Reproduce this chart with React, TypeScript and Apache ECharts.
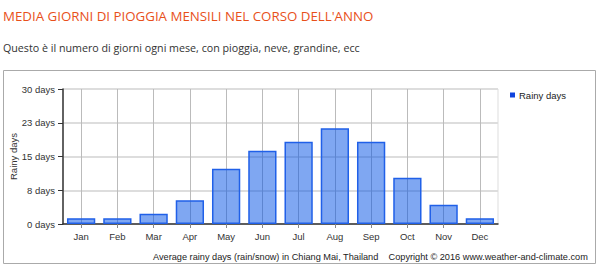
import React, { useEffect, useRef } from "react";
import * as echarts from "echarts";

const months = ["Jan", "Feb", "Mar", "Apr", "May", "Jun", "Jul", "Aug", "Sep", "Oct", "Nov", "Dec"];
const rainyDays = [1.3, 1.3, 2.3, 5.3, 12.3, 16.3, 18.3, 21.3, 18.3, 10.3, 4.3, 1.3];
const seriesName = "Rainy days";
const titleText = "MEDIA GIORNI DI PIOGGIA MENSILI NEL CORSO DELL'ANNO";
const subtitleText = "Questo è il numero di giorni ogni mese, con pioggia, neve, grandine, ecc";
const footerText = "Average rainy days (rain/snow) in Chiang Mai, Thailand    Copyright © 2016 www.weather-and-climate.com";

const axisFont = "'Liberation Sans', Arial, sans-serif";

export default function App() {
  const ref = useRef<HTMLDivElement>(null);
  useEffect(() => {
    if (!ref.current) return;
    const chart = echarts.init(ref.current, null, { renderer: "svg" });
    chart.setOption({
      animation: false,
      backgroundColor: "#fff",
      title: [
        {
          text: titleText,
          left: 3,
          top: 9,
          padding: 0,
          textStyle: { fontFamily: "'Open Sans', sans-serif", fontSize: 13.3, fontWeight: "normal", color: "#e8501a" },
        },
        {
          text: subtitleText,
          left: 3,
          top: 42,
          padding: 0,
          textStyle: { fontFamily: "'Open Sans', sans-serif", fontSize: 10.7, fontWeight: "normal", color: "#333" },
        },
      ],
      legend: {
        data: [seriesName],
        left: 510,
        top: 90,
        padding: 0,
        icon: "rect",
        itemWidth: 5,
        itemHeight: 5,
        itemGap: 5,
        itemStyle: { color: "#1144dd", borderWidth: 0 },
        textStyle: { fontFamily: axisFont, fontSize: 9.5, color: "#222", padding: [0, 0, 0, -1] },
      },
      grid: {
        left: 63,
        top: 89,
        width: 435,
        height: 135,
        containLabel: false,
        outerBoundsMode: "none",
        show: true,
        borderColor: "#ddd",
        borderWidth: 1,
      },
      xAxis: {
        type: "category",
        data: months,
        axisLine: { lineStyle: { color: "#333", width: 1.5 } },
        axisTick: { show: true, alignWithLabel: true, length: 4, lineStyle: { color: "#888" } },
        splitLine: { show: true, alignWithLabel: true, lineStyle: { color: "#bbb", width: 1 } },
        axisLabel: { fontFamily: axisFont, fontSize: 9.5, color: "#333", margin: 7 },
      },
      yAxis: {
        type: "value",
        min: 0,
        max: 30,
        interval: 7.5,
        name: seriesName,
        nameLocation: "middle",
        nameGap: 45,
        nameMoveOverlap: false,
        nameTextStyle: { fontFamily: axisFont, fontSize: 9.5, color: "#333" },
        axisLine: { show: true, lineStyle: { color: "#333", width: 1.5 } },
        axisTick: { show: true, length: 5, lineStyle: { color: "#333" } },
        splitLine: { show: true, lineStyle: { color: "#ddd", width: 2 } },
        axisLabel: {
          fontFamily: axisFont,
          fontSize: 9.5,
          color: "#333",
          margin: 8,
          formatter: (v: number) => Math.round(v) + " days",
        },
      },
      series: [
        {
          name: seriesName,
          type: "bar",
          data: rainyDays,
          barCategoryGap: "22%",
          itemStyle: { color: "rgba(0, 80, 230, 0.5)", borderColor: "#2060e8", borderWidth: 1.5 },
        },
      ],
      graphic: [
        {
          type: "rect",
          shape: { x: 3.5, y: 70.5, width: 592, height: 193 },
          style: { fill: "none", stroke: "#aaa", lineWidth: 1 },
          silent: true,
        },
        {
          type: "text",
          right: 12,
          top: 252,
          style: { text: footerText, fontFamily: axisFont, fontSize: 9.2, fill: "#222" },
        },
      ],
    });
    return () => chart.dispose();
  }, []);
  return <div ref={ref} style={{ position: "absolute", left: 0, top: 0, width: 600, height: 277 }} />;
}
